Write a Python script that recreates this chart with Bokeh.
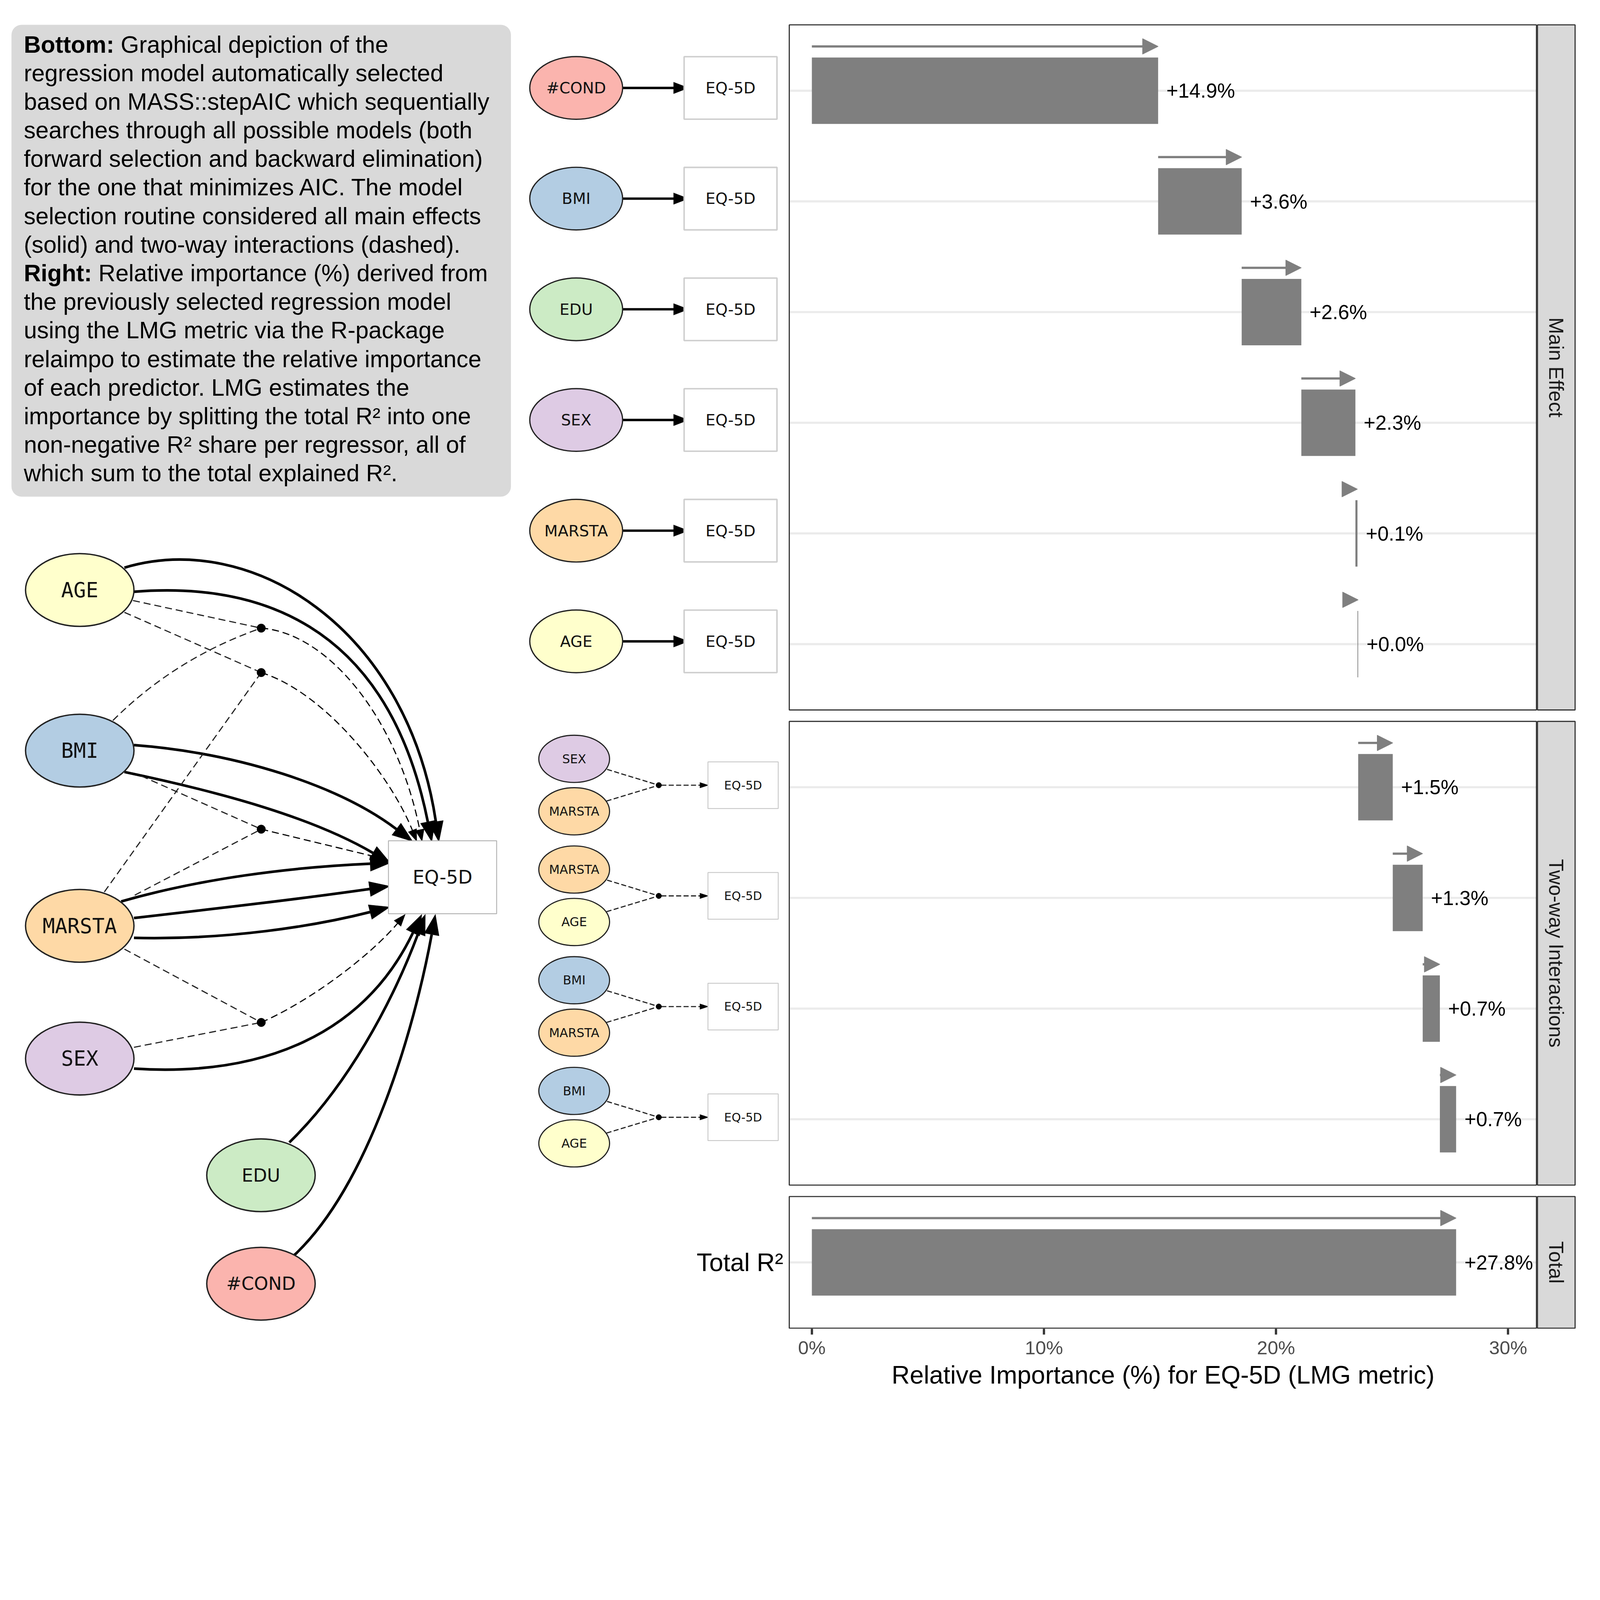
import numpy as np
from bokeh.plotting import figure
from bokeh.models import (Range1d, LinearAxis, FixedTicker, PrintfTickFormatter,
                          BoxAnnotation, Title, ColumnDataSource, Arrow, NormalHead)
from bokeh.core.properties import value
from bokeh.embed import file_html
from bokeh.resources import INLINE

# ---------------- data ----------------
facets = ["Main Effect", "Two-way Interactions", "Total"]
main_terms = ["#COND", "BMI", "EDU", "SEX", "MARSTA", "AGE"]
main_values = [14.92, 3.60, 2.57, 2.33, 0.09, 0.03]
inter_terms = [("SEX", "MARSTA"), ("MARSTA", "AGE"), ("BMI", "MARSTA"), ("BMI", "AGE")]
inter_values = [1.49, 1.29, 0.74, 0.70]
total_label = "Total R²"
total_value = 27.76
x_ticks = [0, 10, 20, 30]
x_title = "Relative Importance (%) for EQ-5D (LMG metric)"
outcome = "EQ-5D"
node_colors = {"AGE": "#FFFFCC", "BMI": "#B3CDE3", "MARSTA": "#FED9A6",
               "SEX": "#DECBE4", "EDU": "#CCEBC5", "#COND": "#FBB4AE"}
caption = [
    ("Bottom:", "Graphical depiction of the"),
    ("", "regression model automatically selected"),
    ("", "based on MASS::stepAIC which sequentially"),
    ("", "searches through all possible models (both"),
    ("", "forward selection and backward elimination)"),
    ("", "for the one that minimizes AIC. The model"),
    ("", "selection routine considered all main effects"),
    ("", "(solid) and two-way interactions (dashed)."),
    ("Right:", "Relative importance (%) derived from"),
    ("", "the previously selected regression model"),
    ("", "using the LMG metric via the R-package"),
    ("", "relaimpo to estimate the relative importance"),
    ("", "of each predictor. LMG estimates the"),
    ("", "importance by splitting the total R² into one"),
    ("", "non-negative R² share per regressor, all of"),
    ("", "which sum to the total explained R²."),
]

# ---------------- layout (reference pixels; DPR converts to CSS px) ----------------
DPR = 6375 / 4096
W_CSS, H_CSS = 4080, 3598
M = 0.0
FRAME_H = 3401
FRAME_BOTTOM = M + FRAME_H * DPR
PX0, PXPP = 3234.0, 92.47          # reference x of 0 %, reference px per 1 %
U, Y_TOP, GAP = 441.0, 96.0, 41.0  # row pitch, panel top, panel gap
Y0 = Y_TOP + 0.6 * U
PANEL_L, PANEL_R, STRIP_R = 3142, 6123, 6277
GREY = "#7F7F7F"
SANS = value("Liberation Sans")
DV = value("DejaVu Sans")
DVM = value("DejaVu Sans Mono")


def px(v):
    return v / DPR


def ipx(v):
    return int(round(v / DPR))


def fs(v):
    return value(f"{v / DPR:.1f}px")


def dash(a, b):
    return f"{ipx(a)} {ipx(b)}"


def ry(r):
    return Y0 + r * U


p = figure(width=W_CSS, height=H_CSS,
           x_range=Range1d(M, M + W_CSS * DPR), y_range=Range1d(FRAME_BOTTOM, M),
           x_axis_type=None, y_axis_type=None, toolbar_location=None, output_backend="svg",
           min_border_left=0, min_border_right=0, min_border_top=0,
           min_border_bottom=H_CSS - FRAME_H)
p.outline_line_color = None
p.background_fill_color = "white"
p.border_fill_color = "white"
p.extra_x_ranges = {"pct": Range1d((M - PX0) / PXPP, (M + W_CSS * DPR - PX0) / PXPP)}
p.extra_y_ranges = {"row": Range1d((FRAME_BOTTOM - Y0) / U, (M - Y0) / U)}

# ---------------- facet geometry ----------------
counts = [len(main_terms), len(inter_terms), 1]
offsets = [0.0]
for n in counts[:-1]:
    offsets.append(offsets[-1] + (n - 1) + 1.2 + GAP / U)
ptop = [o - 0.6 for o in offsets]
pbot = [o + n - 1 + 0.6 for o, n in zip(offsets, counts)]

main_rows = [offsets[0] + i for i in range(len(main_terms))]
inter_rows = [offsets[1] + i for i in range(len(inter_terms))]
total_row = offsets[2]

vals = np.array(main_values + inter_values)
ends = np.cumsum(vals)
starts = ends - vals
rows = np.array(main_rows + inter_rows + [total_row])
starts = np.append(starts, 0.0)
ends = np.append(ends, total_value)
vals = np.append(vals, total_value)
labels = [f"{v:+.1f}%" for v in vals]
src = ColumnDataSource(dict(row=rows, start=starts, end=ends, arow=rows - 0.4, lab=labels))

BW = 4.5 / U  # border width, in row units
p.quad(left=PANEL_L, right=PANEL_R, top=ptop, bottom=pbot, fill_color="white",
       line_color=None, y_range_name="row")
p.segment(x0=PANEL_L, x1=PANEL_R, y0=rows, y1=rows, line_color="#EBEBEB",
          line_width=px(8.5), y_range_name="row")
p.hbar(y="row", left="start", right="end", height=0.6, fill_color=GREY, line_color=None,
       source=src, x_range_name="pct", y_range_name="row")
p.add_layout(Arrow(x_start="start", y_start="arow", x_end="end", y_end="arow", source=src,
                   x_range_name="pct", y_range_name="row", line_color=GREY,
                   line_width=px(9),
                   end=NormalHead(size=px(62), fill_color=GREY, line_color=GREY,
                                  line_width=px(2))))
p.text(x="end", y="row", text="lab", source=src, x_offset=px(33), text_align="left",
       text_baseline="middle", text_font=SANS, text_font_size=fs(80),
       text_color="black", x_range_name="pct", y_range_name="row")
p.quad(left=PANEL_L + 2, right=PANEL_R - 2, top=[t + BW / 2 for t in ptop],
       bottom=[b - BW / 2 for b in pbot], fill_color=None, line_color="#333333",
       line_width=px(4.5), y_range_name="row")
# strips
p.quad(left=PANEL_R + 2, right=STRIP_R - 2, top=[t + BW / 2 for t in ptop],
       bottom=[b - BW / 2 for b in pbot], fill_color="#D9D9D9", line_color="#333333",
       line_width=px(4.5), y_range_name="row")
p.text(x=(PANEL_R + STRIP_R) / 2, y=[(t + b) / 2 for t, b in zip(ptop, pbot)], text=facets,
       angle=-np.pi / 2, text_align="center", text_baseline="middle", text_font=SANS,
       text_font_size=fs(80), text_color="#1A1A1A", y_range_name="row")
# total label (y tick label)
p.text(x=PANEL_L - 22, y=[total_row], text=[total_label], text_align="right",
       text_baseline="middle", text_font=SANS, text_font_size=fs(100),
       text_color="black", y_range_name="row")

# x axis
ax = LinearAxis(x_range_name="pct", ticker=FixedTicker(ticks=x_ticks),
                formatter=PrintfTickFormatter(format="%d%%"))
ax.axis_line_color = None
ax.major_tick_line_color = "#333333"
ax.major_tick_line_width = px(9)
ax.major_tick_out = ipx(24)
ax.major_tick_in = 0
ax.minor_tick_line_color = None
ax.major_label_text_font = "Liberation Sans"
ax.major_label_text_font_size = f"{px(76):.1f}px"
ax.major_label_text_color = "#4D4D4D"
ax.major_label_standoff = ipx(10)
p.add_layout(ax, "below")
# axis title, centred under the panels
TITLE_FS = 100
title_w = 21.615 * TITLE_FS                      # Arial advance width of the title
title_left = (PANEL_L + PANEL_R) / 2 - title_w / 2
p.add_layout(Title(text=x_title, align="left", offset=px(title_left - M),
                   text_font="Liberation Sans", text_font_style="normal",
                   text_font_size=f"{px(TITLE_FS):.1f}px", text_color="black",
                   standoff=ipx(8)), "below")

# ---------------- caption box ----------------
p.add_layout(BoxAnnotation(left=45, right=2035, top=98, bottom=1978, fill_color="#D9D9D9",
                           fill_alpha=1.0, line_color=None, border_radius=ipx(40),
                           level="underlay"))
FS = 94
bold_w = {"B": .722, "o": .611, "t": .333, "m": .889, ":": .333, "R": .722, "i": .278,
          "g": .611, "h": .611}
bx, by, bt, nx, ny, nt = [], [], [], [], [], []
for i, (b, rest) in enumerate(caption):
    y = 176 + i * 113.9
    x = 94
    if b:
        bx.append(x); by.append(y); bt.append(b)
        x += (sum(bold_w[c] for c in b) + 0.278) * FS
    nx.append(x); ny.append(y); nt.append(rest)
p.text(x=bx, y=by, text=bt, text_font=SANS, text_font_style="bold",
       text_font_size=fs(FS), text_baseline="middle", text_color="black")
p.text(x=nx, y=ny, text=nt, text_font=SANS, text_font_size=fs(FS),
       text_baseline="middle", text_color="black")


# ---------------- helpers ----------------
def head(tip, frm, L, hw):
    tx, ty = tip
    fx, fy = frm
    dx, dy = tx - fx, ty - fy
    d = (dx * dx + dy * dy) ** 0.5
    ux, uy = dx / d, dy / d
    bxx, byy = tx - ux * L, ty - uy * L
    nxx, nyy = -uy, ux
    return (bxx, byy), [tx, bxx + nxx * hw, bxx - nxx * hw], [ty, byy + nyy * hw, byy - nyy * hw]


def draw_curves(curves, L, hw, width, dsh):
    d = dict(x0=[], y0=[], x1=[], y1=[], cx0=[], cy0=[], cx1=[], cy1=[])
    hx, hy = [], []
    for P0, P1, P2, T in curves:
        base, xs, ys = head(T, P2, L, hw)
        d["x0"].append(P0[0]); d["y0"].append(P0[1])
        d["cx0"].append(P1[0]); d["cy0"].append(P1[1])
        d["cx1"].append(P2[0]); d["cy1"].append(P2[1])
        d["x1"].append(base[0]); d["y1"].append(base[1])
        hx.append(xs); hy.append(ys)
    p.bezier(source=ColumnDataSource(d), x0="x0", y0="y0", x1="x1", y1="y1", cx0="cx0",
             cy0="cy0", cx1="cx1", cy1="cy1", line_color="black", line_width=px(width),
             line_dash=dsh)
    p.patches(xs=hx, ys=hy, fill_color="black", line_color="black", line_width=px(1))


def straight(a, t):
    return (a, (a[0] + (t[0] - a[0]) / 3, a[1] + (t[1] - a[1]) / 3),
            (a[0] + 2 * (t[0] - a[0]) / 3, a[1] + 2 * (t[1] - a[1]) / 3), t)


# ---------------- big model diagram ----------------
big_nodes = {"AGE": (317, 2350), "BMI": (317, 2990), "MARSTA": (317, 3688),
             "SEX": (317, 4217), "EDU": (1039, 4682), "#COND": (1039, 5114)}
mono = {"AGE", "BMI", "MARSTA", "SEX"}
box_big = (1547, 1978, 3349, 3640)

solid = [
    ((495, 2261), (1000, 2110), (1620, 2500), (1748, 3354)),
    ((533, 2357), (1000, 2320), (1540, 2460), (1720, 3354)),
    ((533, 2968), (950, 3000), (1350, 3130), (1644, 3352)),
    ((495, 3075), (900, 3160), (1250, 3260), (1556, 3439)),
    ((482, 3591), (800, 3500), (1150, 3455), (1556, 3437)),
    ((533, 3657), (900, 3615), (1200, 3580), (1553, 3530)),
    ((533, 3736), (900, 3745), (1250, 3690), (1553, 3613)),
    ((533, 4257), (1050, 4290), (1450, 4120), (1680, 3642)),
    ((1152, 4551), (1380, 4330), (1560, 4000), (1694, 3642)),
    ((1172, 5000), (1470, 4720), (1650, 4100), (1734, 3642)),
]
junctions = [(1040, 2502), (1040, 2679), (1040, 3303), (1040, 4073)]
dash_in = [((529, 2392), None, 0), ((449, 2870), (700, 2620), 0),
           ((495, 2439), None, 1), ((415, 3553), None, 1),
           ((562, 3091), None, 2), ((536, 3566), None, 2),
           ((495, 3781), None, 3), ((533, 4172), None, 3)]
dash_out = [
    ((1040, 2502), (1300, 2520), (1580, 2850), (1681, 3352)),
    ((1040, 2679), (1300, 2760), (1560, 3100), (1660, 3352)),
    straight((1040, 3303), (1545, 3425)),
    ((1040, 4073), (1250, 3980), (1480, 3800), (1614, 3642)),
]
draw_curves(solid, 82, 30, 10.5, "solid")
draw_curves(dash_out, 48, 18, 4.5, dash(28, 16))
for a, c, j in dash_in:
    jx, jy = junctions[j]
    if c is None:
        c = ((a[0] + jx) / 2, (a[1] + jy) / 2)
    p.quadratic(x0=[a[0]], y0=[a[1]], x1=[jx], y1=[jy], cx=[c[0]], cy=[c[1]],
                line_color="#222222", line_width=px(4.5), line_dash=dash(28, 16))
p.circle(x=[j[0] for j in junctions], y=[j[1] for j in junctions], radius=17,
         fill_color="black", line_color="black")
for name, (cx, cy) in big_nodes.items():
    p.ellipse(x=[cx], y=[cy], width=432, height=290, fill_color=node_colors[name],
              line_color="#222222", line_width=px(5.5))
    p.text(x=[cx], y=[cy], text=[name], text_align="center", text_baseline="middle",
           text_font=DVM if name in mono else DV,
           text_font_size=fs(82 if name in mono else 72), text_color="#111111")
p.quad(left=box_big[0], right=box_big[1], top=box_big[2], bottom=box_big[3],
       fill_color="white", line_color="#B0B0B0", line_width=px(3.5))
p.text(x=[(box_big[0] + box_big[1]) / 2], y=[(box_big[2] + box_big[3]) / 2], text=[outcome],
       text_align="center", text_baseline="middle", text_font=DV,
       text_font_size=fs(74), text_color="#111111")

# ---------------- per-row small diagrams (y tick "labels") ----------------
for term, r in zip(main_terms, main_rows):
    cy = ry(r) - 11
    p.segment(x0=[2480], y0=[cy], x1=[2690], y1=[cy], line_color="black",
              line_width=px(9.5))
    _, hx, hy = head((2743, cy), (2480, cy), 60, 23)
    p.patch(x=hx, y=hy, fill_color="black", line_color="black", line_width=px(1))
    p.ellipse(x=[2295], y=[cy], width=370, height=250, fill_color=node_colors[term],
              line_color="#222222", line_width=px(5))
    p.text(x=[2295], y=[cy], text=[term], text_align="center", text_baseline="middle",
           text_font=DV, text_font_size=fs(62), text_color="#111111")
    p.rect(x=[2910], y=[cy], width=370, height=249, fill_color="white",
           line_color="#CFCFCF", line_width=px(6))
    p.text(x=[2910], y=[cy], text=[outcome], text_align="center", text_baseline="middle",
           text_font=DV, text_font_size=fs(62), text_color="#111111")

for (a, b), r in zip(inter_terms, inter_rows):
    cy = ry(r) - 8
    p.segment(x0=[2418, 2416], y0=[cy - 63, cy + 63], x1=[2624, 2624], y1=[cy, cy],
              line_color="#222222", line_width=px(4.5), line_dash=dash(20, 10))
    p.segment(x0=[2634], y0=[cy], x1=[2790], y1=[cy], line_color="#222222",
              line_width=px(4.5), line_dash=dash(20, 10))
    _, hx, hy = head((2822, cy), (2624, cy), 34, 11)
    p.patch(x=hx, y=hy, fill_color="black", line_color="black", line_width=px(1))
    p.circle(x=[2624], y=[cy], radius=11, fill_color="black", line_color="black")
    for nm, dy in ((a, -105), (b, 104)):
        p.ellipse(x=[2287], y=[cy + dy], width=282, height=188, fill_color=node_colors[nm],
                  line_color="#222222", line_width=px(4.5))
        p.text(x=[2287], y=[cy + dy], text=[nm], text_align="center", text_baseline="middle",
               text_font=DV, text_font_size=fs(49), text_color="#111111")
    p.rect(x=[2960], y=[cy], width=280, height=186, fill_color="white",
           line_color="#C8C8C8", line_width=px(3.5))
    p.text(x=[2960], y=[cy], text=[outcome], text_align="center", text_baseline="middle",
           text_font=DV, text_font_size=fs(47), text_color="#111111")

open("out.html", "w").write(file_html(p, INLINE))
